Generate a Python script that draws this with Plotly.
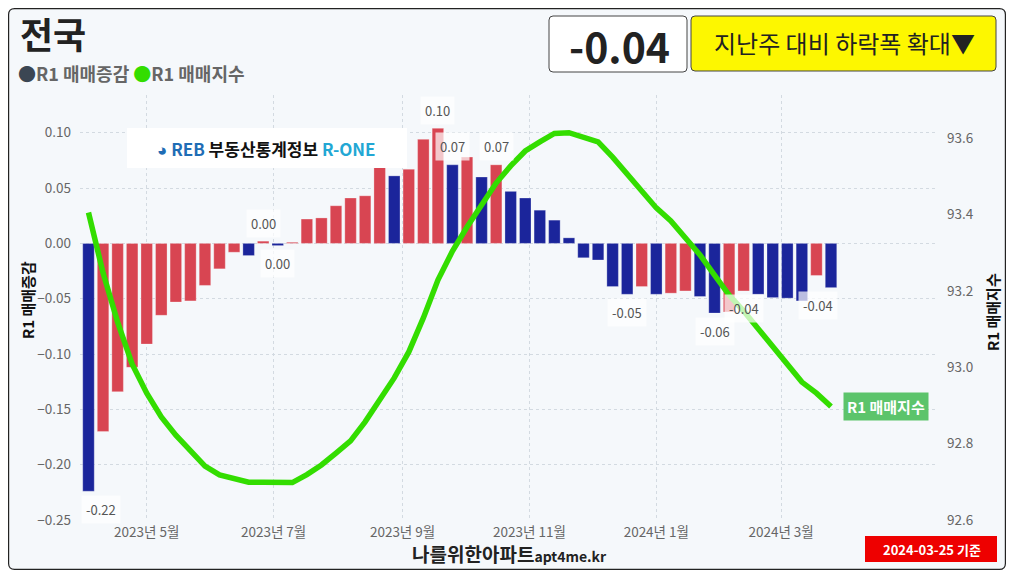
import plotly.graph_objects as go
import pandas as pd

# figure sits inside the page's 8px body margin
OFF = 8
W, H = 998, 562

# weekly survey dates (Mondays)
weeks = pd.date_range("2023-04-03", "2024-03-25", freq="7D")

# R1 매매증감 (weekly % change)
change = [-0.224, -0.170, -0.134, -0.112, -0.091, -0.065, -0.053, -0.052, -0.038, -0.023,
          -0.008, -0.011, 0.002, -0.002, 0.001, 0.022, 0.023, 0.034, 0.041, 0.043,
          0.069, 0.061, 0.067, 0.094, 0.104, 0.071, 0.078, 0.060, 0.071, 0.047,
          0.041, 0.030, 0.021, 0.005, -0.013, -0.015, -0.039, -0.046, -0.039, -0.046,
          -0.045, -0.043, -0.048, -0.063, -0.062, -0.043, -0.046, -0.049, -0.0495, -0.052,
          -0.029, -0.040]

# R1 매매지수 (index)
index = [93.405, 93.247, 93.118, 93.008, 92.932, 92.870, 92.822, 92.781, 92.741, 92.718,
         92.707, 92.699, 92.699, 92.700, 92.698, 92.719, 92.744, 92.775, 92.807, 92.857,
         92.914, 92.972, 93.040, 93.129, 93.228, 93.304, 93.367, 93.425, 93.482, 93.527,
         93.566, 93.590, 93.612, 93.614, 93.603, 93.590, 93.550, 93.506, 93.461, 93.417,
         93.383, 93.341, 93.294, 93.241, 93.189, 93.147, 93.100, 93.055, 93.006, 92.961,
         92.932, 92.897]

label_weeks = [0, 12, 13, 24, 25, 28, 37, 43, 45, 51]
x_ticks = ["2023-05-01", "2023-07-01", "2023-09-01", "2023-11-01", "2024-01-01", "2024-03-01"]
left_ticks = [-0.25, -0.20, -0.15, -0.10, -0.05, 0.00, 0.05, 0.10]
right_ticks = [92.6, 92.8, 93.0, 93.2, 93.4, 93.6]

headline = "-0.04"
headline_note = "지난주 대비 하락폭 확대▼"
base_date = "2024-03-25 기준"

BLUE = "#1B259B"
RED = "#D84552"
GREEN = "#33DD00"
GRID = "#D3DAE1"
FONT = "Noto Sans CJK KR, sans-serif"

# red when the change went up vs the week before, blue otherwise
colors = [BLUE] + [RED if change[i] > change[i - 1] else BLUE for i in range(1, len(change))]


def px(x):
    return (x - OFF) / W


def py(y):
    return 1 - (y - OFF) / H


def rrect(x0, y0, x1, y1, r):
    pts = [
        f"M{px(x0 + r)},{py(y0)}", f"L{px(x1 - r)},{py(y0)}", f"Q{px(x1)},{py(y0)} {px(x1)},{py(y0 + r)}",
        f"L{px(x1)},{py(y1 - r)}", f"Q{px(x1)},{py(y1)} {px(x1 - r)},{py(y1)}",
        f"L{px(x0 + r)},{py(y1)}", f"Q{px(x0)},{py(y1)} {px(x0)},{py(y1 - r)}",
        f"L{px(x0)},{py(y0 + r)}", f"Q{px(x0)},{py(y0)} {px(x0 + r)},{py(y0)}", "Z",
    ]
    return " ".join(pts)


def note(x, y, text, size, color, **kw):
    d = dict(x=px(x), y=py(y), xref="paper", yref="paper", text=text, showarrow=False,
             xanchor="center", yanchor="middle", font=dict(size=size, color=color))
    d.update(kw)
    return d


fig = go.Figure()
fig.add_trace(go.Bar(x=weeks, y=change, name="R1 매매증감",
                     marker=dict(color=colors, line=dict(color="rgba(255,255,255,0.35)", width=0.8))))
fig.add_trace(go.Scatter(x=weeks, y=index, yaxis="y2", mode="lines", name="R1 매매지수",
                         line=dict(color=GREEN, width=5.5)))

shapes = [
    dict(type="path", path=rrect(8.6, 8.6, 1005.4, 569.4, 6), xref="paper", yref="paper",
         fillcolor="#F5F8FB", line=dict(color="#222", width=1.2), layer="below"),
    dict(type="path", path=rrect(549, 16, 687, 72, 4), xref="paper", yref="paper",
         fillcolor="white", line=dict(color="#444", width=1), layer="above"),
    dict(type="path", path=rrect(691, 16, 996, 71, 4), xref="paper", yref="paper",
         fillcolor="#FDF700", line=dict(color="#444", width=1), layer="above"),
    dict(type="rect", x0=px(865), x1=px(997), y0=py(562), y1=py(536), xref="paper", yref="paper",
         fillcolor="#EE0000", line=dict(width=0), layer="above"),
    dict(type="rect", x0=px(127), x1=px(407), y0=py(168), y1=py(128), xref="paper", yref="paper",
         fillcolor="white", line=dict(width=0), layer="above"),
]

ann = []
for i in label_weeks:
    v = change[i]
    txt = f"{abs(v):.2f}" if round(v, 2) == 0 else f"{v:.2f}"
    xs = 13 if i == 0 else (-13 if i == len(change) - 1 else 0)
    ann.append(dict(x=weeks[i], y=v, xref="x", yref="y", text=txt, showarrow=False,
                    xanchor="center", yanchor="middle",
                    yshift=18 if v >= 0 else -18, xshift=xs,
                    font=dict(size=13, color="#555"), bgcolor="rgba(255,255,255,0.7)", borderpad=4))

ann += [
    dict(x=weeks[-1], y=index[-1], xref="x", yref="y2", text="<b>R1 매매지수</b>", showarrow=False,
         xanchor="left", yanchor="middle", xshift=12, font=dict(size=15, color="white"),
         bgcolor="#5CC46B", borderpad=3),
    note(18, 33, "<b>전국</b>", 36, "#222", xanchor="left"),
    note(16, 73, "<b><span style='color:#3B4653'>●</span>R1 매매증감 "
                 "<span style='color:#33DD00'>●</span>R1 매매지수</b>", 18, "#666", xanchor="left"),
    note(619, 45, f"<b>{headline}</b>", 41, "#222"),
    note(844, 43, headline_note, 24, "#222"),
    note(932, 549, f"<b>{base_date}</b>", 13, "white"),
    note(509, 553, "<b>나를위한아파트<span style='font-size:14px'>apt4me.kr</span></b>", 19, "#222"),
    note(266, 148, "<b><span style='color:#1F6DB5'>◕ REB</span> 부동산통계정보 "
                   "<span style='color:#22A7D4'>R-ONE</span></b>", 17, "#111"),
    note(27, 300, "<b>R1 매매증감</b>", 15, "#111", textangle=-90),
    note(992, 312, "<b>R1 매매지수</b>", 15, "#111", textangle=-90),
]

fig.update_layout(
    width=W, height=H,
    margin=dict(l=0, r=0, t=0, b=0),
    paper_bgcolor="white", plot_bgcolor="rgba(0,0,0,0)",
    font=dict(family=FONT, color="#666"),
    showlegend=False, bargap=0.21,
    shapes=shapes, annotations=ann,
    xaxis=dict(domain=[px(80), px(937)], type="date",
               range=["2023-03-29 22:00", "2024-05-14 23:00"],
               tickvals=x_ticks, tickformat="%Y년 %-m월",
               showgrid=True, griddash="dot", gridcolor=GRID, gridwidth=1,
               zeroline=False, showline=False, ticks="", automargin=False,
               ticklabelstandoff=2, tickfont=dict(size=13.5, color="#666")),
    yaxis=dict(domain=[py(520), py(95)], range=[-0.25, 0.1341],
               tickvals=left_ticks, tickformat=".2f",
               showgrid=True, griddash="dot", gridcolor=GRID, gridwidth=1,
               zeroline=False, showline=False, ticks="", automargin=False,
               ticklabelstandoff=8, tickfont=dict(size=13.5, color="#666")),
    yaxis2=dict(overlaying="y", side="right", anchor="x", range=[92.6, 93.7126],
                tickvals=right_ticks, tickformat=".1f", showgrid=False,
                zeroline=False, showline=False, ticks="", automargin=False,
                ticklabelstandoff=9, tickfont=dict(size=13.5, color="#666")),
)

fig.write_html("out.html")
